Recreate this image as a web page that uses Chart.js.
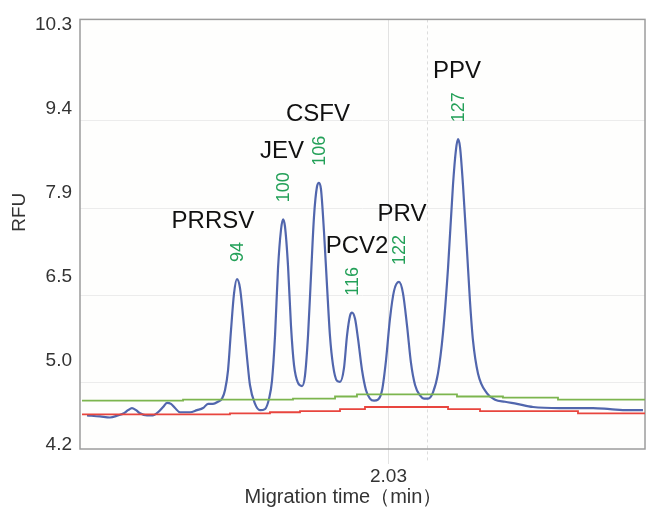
<!DOCTYPE html>
<html>
<head>
<meta charset="utf-8">
<script src="https://cdn.jsdelivr.net/npm/chart.js@4/dist/chart.umd.min.js"></script>
<style>
  html, body { margin: 0; padding: 0; background: #ffffff; }
  #wrap { width: 646px; height: 512px; position: relative; }
</style>
</head>
<body>
<div id="wrap"><canvas id="c" width="646" height="512"></canvas></div>
<script>
// ---- axis ticks ----
const xTickValues = [2.03];
const yTickValues = [4.2, 5.0, 6.5, 7.9, 9.4, 10.3];
const yTickLabels = ['4.2', '5.0', '6.5', '7.9', '9.4', '10.3'];
const markerTimes = [2.064];

// ---- electropherogram trace (migration time in min, RFU) ----
const traceTimes = [1.7632,1.7747,1.7835,1.7906,1.7959,1.7995,1.8030,1.8066,1.8101,1.8163,
  1.8216,1.8260,1.8305,1.8340,1.8375,1.8411,1.8455,1.8544,1.8605,1.8659,
  1.8703,1.8747,1.8791,1.8827,1.8853,1.8880,1.8906,1.8933,1.8959,1.8986,
  1.9013,1.9048,1.9074,1.9119,1.9163,1.9207,1.9243,1.9269,1.9296,1.9322,
  1.9349,1.9367,1.9384,1.9411,1.9437,1.9464,1.9499,1.9535,1.9561,1.9588,
  1.9614,1.9641,1.9667,1.9685,1.9703,1.9729,1.9756,1.9782,1.9809,1.9844,
  1.9871,1.9906,1.9933,1.9959,1.9977,2.0004,2.0030,2.0066,2.0101,2.0136,
  2.0172,2.0207,2.0243,2.0278,2.0313,2.0349,2.0393,2.0428,2.0464,2.0499,
  2.0535,2.0579,2.0614,2.0650,2.0694,2.0738,2.0782,2.0827,2.0871,2.0897,
  2.0915,2.0933,2.0959,2.0995,2.1021,2.1048,2.1092,2.1172,2.1243,2.1331,
  2.1437,2.1579,2.1818,2.2110,2.2260,2.2420,2.2552];
const traceRFU = [4.48,4.47,4.46,4.48,4.50,4.53,4.55,4.53,4.50,4.48,
  4.48,4.51,4.56,4.60,4.59,4.55,4.51,4.51,4.53,4.55,
  4.59,4.59,4.61,4.64,4.72,4.91,5.54,6.20,6.46,6.30,
  5.80,5.06,4.77,4.59,4.53,4.54,4.64,4.81,5.45,6.63,
  7.29,7.46,7.34,6.68,5.63,4.96,4.79,4.76,4.86,5.45,
  6.51,7.51,8.01,8.08,7.96,7.26,6.34,5.45,4.96,4.81,
  4.80,4.93,5.45,5.80,5.86,5.75,5.40,4.91,4.72,4.64,
  4.62,4.63,4.72,5.01,5.75,6.25,6.41,6.21,5.63,4.98,
  4.77,4.67,4.64,4.64,4.70,4.88,5.49,6.65,8.05,8.67,
  8.86,8.72,8.05,6.93,6.07,5.36,4.88,4.69,4.63,4.61,
  4.59,4.56,4.55,4.55,4.54,4.53,4.53];

// ---- upper (green) and lower (red) threshold lines ----
const greenTimes = [1.7588,1.8482,1.9455,1.9827,2.0021,2.0906,2.1313,2.1800,2.2570];
const greenRFU   = [4.62,4.63,4.64,4.66,4.68,4.66,4.65,4.63,4.63];
const redTimes   = [1.7588,1.8897,1.9251,1.9517,1.9871,2.0092,2.0827,2.1110,2.1977,2.2570];
const redRFU     = [4.49,4.50,4.51,4.52,4.54,4.56,4.54,4.52,4.50,4.50];

// ---- peak annotations ----
const peakNames = ['PRRSV', 'JEV', 'CSFV', 'PCV2', 'PRV', 'PPV'];
const peakSizes = ['94', '100', '106', '116', '122', '127'];
const peakTimes = [1.8959, 1.9367, 1.9685, 1.9977, 2.0393, 2.0915];

// ---- piecewise RFU scale (ticks evenly spaced, values per the labels) ----
function rfuToIdx(v) {
  const T = yTickValues; let i = 0;
  while (i < T.length - 2 && v > T[i + 1]) i++;
  return i + (v - T[i]) / (T[i + 1] - T[i]);
}
function idxToRfu(k) {
  const T = yTickValues; let i = Math.max(0, Math.min(T.length - 2, Math.floor(k)));
  return T[i] + (k - i) * (T[i + 1] - T[i]);
}
class RfuScale extends Chart.LinearScale {
  determineDataLimits() { this.min = this.options.min; this.max = this.options.max; }
  buildTicks() { return yTickValues.map(v => ({ value: v })); }
  getPixelForValue(value) {
    const lo = rfuToIdx(this.min), hi = rfuToIdx(this.max);
    return this.getPixelForDecimal((rfuToIdx(value) - lo) / (hi - lo));
  }
  getValueForPixel(pixel) {
    const lo = rfuToIdx(this.min), hi = rfuToIdx(this.max);
    return idxToRfu(lo + this.getDecimalForPixel(pixel) * (hi - lo));
  }
}
RfuScale.id = 'rfu';
Chart.register(RfuScale);

const FONT = '"Liberation Sans", Arial, sans-serif';

const decor = {
  id: 'decor',
  beforeDraw(chart) {
    const { ctx, chartArea: a } = chart;
    ctx.save();
    ctx.fillStyle = '#fefefd';
    ctx.fillRect(a.left, a.top, a.right - a.left, a.bottom - a.top);
    ctx.restore();
  },
  beforeDatasetsDraw(chart) {
    const { ctx, chartArea: a, scales } = chart;
    ctx.save();
    ctx.strokeStyle = '#dcdcdc';
    ctx.lineWidth = 1;
    ctx.setLineDash([3, 3]);
    markerTimes.forEach(t => {
      const px = Math.round(scales.x.getPixelForValue(t)) + 0.5;
      ctx.beginPath(); ctx.moveTo(px, a.top); ctx.lineTo(px, a.bottom + 14); ctx.stroke();
    });
    ctx.setLineDash([]);
    ctx.strokeStyle = '#9c9c9c';
    ctx.lineWidth = 1.5;
    ctx.strokeRect(a.left, a.top, a.right - a.left, a.bottom - a.top);
    ctx.restore();
  },
  afterDatasetsDraw(chart) {
    const { ctx, chartArea: a, scales } = chart;
    const dx = [-24, -1, -1, 5, 3, -1];
    ctx.save();
    peakTimes.forEach((t, i) => {
      const k = traceTimes.indexOf(t);
      const px = scales.x.getPixelForValue(t);
      const py = scales.y.getPixelForValue(traceRFU[k]);
      ctx.font = '18px ' + FONT;
      const w = ctx.measureText(peakSizes[i]).width;
      ctx.save();
      ctx.translate(px + 1, py - 17);
      ctx.rotate(-Math.PI / 2);
      ctx.fillStyle = '#23a058';
      ctx.textAlign = 'left';
      ctx.textBaseline = 'middle';
      ctx.fillText(peakSizes[i], 0, 0);
      ctx.restore();
      ctx.font = '24px ' + FONT;
      ctx.fillStyle = '#111111';
      ctx.textAlign = 'center';
      ctx.textBaseline = 'middle';
      ctx.fillText(peakNames[i], px + dx[i], py - 17 - w - 21);
    });
    // axis titles
    ctx.fillStyle = '#333333';
    ctx.font = '20px ' + FONT;
    ctx.textAlign = 'center';
    ctx.textBaseline = 'middle';
    ctx.fillText('Migration time（min）', (a.left + a.right) / 2 - 19, 497);
    ctx.font = '19px ' + FONT;
    ctx.save();
    ctx.translate(20, (a.top + a.bottom) / 2 - 22);
    ctx.rotate(-Math.PI / 2);
    ctx.fillText('RFU', 0, 0);
    ctx.restore();
    ctx.restore();
  }
};

const toPts = (xs, ys) => xs.map((x, i) => ({ x: x, y: ys[i] }));

new Chart(document.getElementById('c'), {
  type: 'line',
  data: {
    datasets: [
      { label: 'upper', data: toPts(greenTimes, greenRFU), borderColor: '#7cb54e', borderWidth: 1.8, pointRadius: 0, stepped: true },
      { label: 'lower', data: toPts(redTimes, redRFU), borderColor: '#e8453e', borderWidth: 1.8, pointRadius: 0, stepped: true },
      { label: 'trace', data: toPts(traceTimes, traceRFU), borderColor: '#5166ad', borderWidth: 2.2, pointRadius: 0, cubicInterpolationMode: 'monotone' }
    ]
  },
  options: {
    responsive: false,
    animation: false,
    events: [],
    layout: { padding: { top: 16, right: 1, left: 0, bottom: 0 } },
    plugins: { legend: { display: false }, tooltip: { enabled: false } },
    scales: {
      x: {
        type: 'linear', min: 1.757, max: 2.257,
        afterBuildTicks: s => { s.ticks = xTickValues.map(v => ({ value: v })); },
        afterFit: s => { s.height = 63; },
        ticks: { callback: v => v.toFixed(2), font: { size: 19, family: FONT }, color: '#333333', padding: 1, maxRotation: 0, autoSkip: false },
        grid: { color: '#e2e2e2', lineWidth: 1, drawTicks: true, tickLength: 15 },
        border: { display: false }
      },
      y: {
        type: 'rfu', position: 'left', min: 4.16, max: 10.36,
        afterFit: s => { s.width = 80; },
        ticks: { callback: (v, i) => yTickLabels[i], font: { size: 19, family: FONT }, color: '#333333', padding: 8 },
        grid: { display: false, drawTicks: false },
        border: { display: false }
      },
      yg: {
        type: 'linear', position: 'left', min: -0.76, max: 4.16,
        afterFit: s => { s.width = 0; },
        afterBuildTicks: s => { s.ticks = s.ticks.filter(t => t.value >= 0 && t.value <= 3); },
        ticks: { display: false, stepSize: 1 },
        grid: { color: '#ececec', drawTicks: false },
        border: { display: false }
      }
    }
  },
  plugins: [decor]
});
</script>
</body>
</html>
